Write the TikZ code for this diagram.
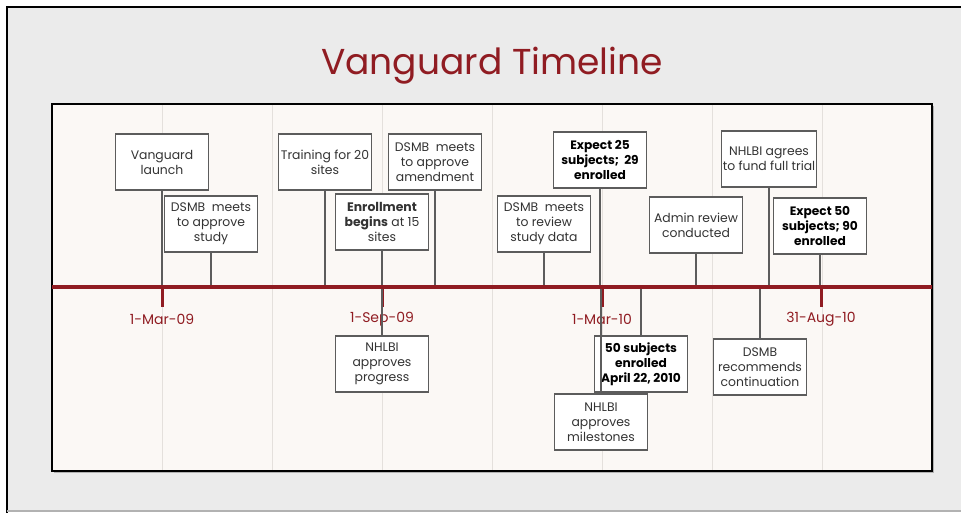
\documentclass[tikz,border=0pt]{standalone}
\usepackage{fontspec}
\setmainfont{Poppins}
\usetikzlibrary{positioning}

\definecolor{slidegray}{HTML}{EBEBEB}
\definecolor{paper}{HTML}{FBF8F5}
\definecolor{gridline}{HTML}{E4E0DC}
\definecolor{vgred}{HTML}{901C22}
\definecolor{boxgray}{HTML}{5C5C5C}

\tikzset{
  evbox/.style={draw=boxgray, line width=1.4pt, fill=white, align=center,
    minimum width=93pt, minimum height=56pt, inner sep=1pt, text=black!80,
    font=\fontsize{12.4}{15}\selectfont},
  boldbox/.style={evbox, text=black, font=\fontsize{12.2}{15}\selectfont\bfseries},
  link/.style={boxgray, line width=1.3pt},
  datelbl/.style={text=vgred, font=\fontsize{14}{16}\selectfont},
}

\begin{document}
\begin{tikzpicture}[x=1pt,y=-1pt]
  \useasboundingbox (0,0) rectangle (961,513);
  % slide
  \fill[slidegray] (7,7) rectangle (975,511);
  \draw[line width=2.6pt] (7,513) -- (7,7) -- (961,7);
  \draw[black!30, line width=1.2pt] (7,511) -- (961,511);
  \node[text=vgred, font=\fontsize{36}{40}\selectfont, anchor=base] (title) at (492,75) {Vanguard Timeline};

  % inner panel with faint columns
  \fill[black!30] (54,106) rectangle (934,473);
  \draw[fill=paper, line width=1.8pt] (52,104) rectangle (932,471);
  \foreach \gx in {162,272,...,822}
    \draw[gridline, line width=1pt] (\gx,105) -- (\gx,470);
  \coordinate (tl) at (52,287);
  \coordinate (tr) at (932,287);

  % dates
  \foreach \tx/\dt [count=\i] in {162/1-Mar-09, 382/1-Sep-09, 602/1-Mar-10, 821/31-Aug-10}{
    \draw[vgred, line width=3pt] (\tx,287) -- (\tx,307);
    \node[datelbl] (date\i) at (\tx,319) {\dt};
  }

  % events above the line
  \node[evbox] (launch) at (162,162) {Vanguard\\launch};
  \node[evbox] (study) at (211,224) {DSMB\ \ meets\\to approve\\study};
  \node[evbox] (train) at (325,162) {Training for 20\\sites};
  \node[evbox] (enrol) at (382,222) {\textbf{Enrollment}\\\textbf{begins} at 15\\sites};
  \node[evbox] (amend) at (435,162) {DSMB\ \ meets\\to approve\\amendment};
  \node[evbox] (review) at (544,224) {DSMB\ \ meets\\to review\\study data};
  \node[boldbox] (exp25) at (600,160) {Expect 25\\subjects;\ \ 29\\enrolled};
  \node[evbox] (admin) at (696,225) {Admin review\\conducted};
  \node[evbox] (fund) at (769,159) {NHLBI agrees\\to fund full trial};
  \node[boldbox] (exp50) at (820,226) {Expect 50\\subjects; 90\\enrolled};

  % events below the line
  \node[evbox] (progress) at (382,364) {NHLBI\\approves\\progress};
  \node[boldbox] (fifty) at (641,364) {50 subjects\\enrolled\\April 22, 2010};
  \node[evbox] (miles) at (601,422) {NHLBI\\approves\\milestones};
  \node[evbox] (cont) at (760,367) {DSMB\\recommends\\continuation};

  % connectors
  \foreach \ev in {launch,study,train,enrol,amend,review,exp25,admin,fund,exp50}
    \draw[link] (\ev.south) -- (\ev.south |- tl);
  \foreach \ev in {progress,fifty,miles,cont}
    \draw[link] (\ev.north) -- (\ev.north |- tl);

  % time line
  \draw[vgred, line width=3.2pt] (tl) -- (tr);
\end{tikzpicture}
\end{document}
